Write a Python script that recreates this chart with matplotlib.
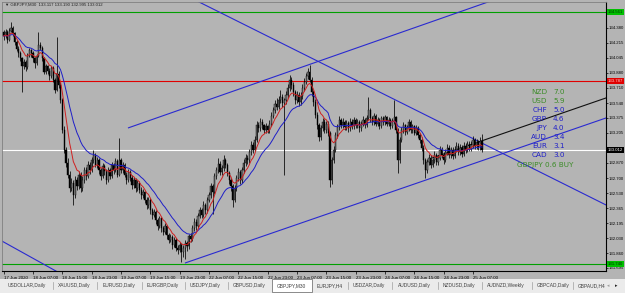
import matplotlib
matplotlib.use('Agg')
import matplotlib.pyplot as plt
import matplotlib.transforms as mtransforms
from matplotlib.patches import Rectangle
import numpy as np
import pandas as pd

# ---------------- data ----------------
first_open = 134.33
closes = [
134.29,134.34,134.25,134.35,134.38,134.32,134.22,134.15,134.10,134.04,
133.95,134.00,133.94,134.07,134.13,134.10,134.04,133.99,134.07,134.19,
134.16,134.04,133.89,133.95,133.90,133.84,133.93,133.80,133.69,133.87,
133.74,133.57,133.24,133.02,132.87,132.74,132.59,132.65,132.51,132.68,
132.61,132.74,132.59,132.68,132.79,132.72,132.85,132.79,132.90,132.96,
132.85,132.90,132.79,132.72,132.84,132.78,132.68,132.79,132.72,132.85,
132.79,132.89,132.74,132.90,132.79,132.85,132.74,132.68,132.77,132.70,
132.62,132.68,132.59,132.65,132.57,132.51,132.54,132.46,132.40,132.46,
132.34,132.29,132.32,132.23,132.16,132.25,132.14,132.10,132.16,132.06,
132.01,132.04,131.95,132.01,131.92,131.90,131.95,131.87,131.92,131.97,
131.94,132.05,132.02,132.14,132.21,132.16,132.28,132.34,132.29,132.40,
132.34,132.46,132.51,132.61,132.55,132.72,132.79,132.86,132.77,132.81,
132.90,132.85,132.76,132.68,132.61,132.46,132.59,132.70,132.77,132.68,
132.79,132.87,132.93,132.90,132.99,133.07,133.02,133.13,133.29,133.26,
133.33,133.29,133.24,133.28,133.24,133.31,133.40,133.46,133.53,133.50,
133.57,133.61,133.54,133.57,133.63,133.71,133.80,133.74,133.66,133.57,
133.63,133.55,133.62,133.71,133.78,133.84,133.89,133.80,133.66,133.55,
133.41,133.29,133.16,133.26,133.33,133.24,133.31,133.21,132.68,132.90,
133.02,133.18,133.27,133.35,133.29,133.33,133.27,133.32,133.26,133.33,
133.28,133.35,133.29,133.33,133.26,133.31,133.35,133.29,133.37,133.46,
133.37,133.33,133.40,133.31,133.35,133.28,133.37,133.33,133.38,133.31,
133.35,133.28,133.34,133.38,133.24,132.90,133.13,133.24,133.29,133.22,
133.26,133.33,133.24,133.28,133.21,133.26,133.18,133.13,133.04,132.90,
132.79,132.88,132.93,132.85,132.90,132.96,132.88,132.93,133.02,132.96,
132.90,132.99,133.04,132.96,133.02,132.95,133.02,133.06,132.99,133.04,
132.97,133.06,133.02,133.08,133.03,133.07,133.13,133.06,133.10,133.05,
133.117,133.012]
highs = [
134.36,134.37,134.36,134.38,134.45,134.40,134.34,134.25,134.18,134.12,
134.06,134.03,134.02,134.10,134.16,134.15,134.12,134.06,134.09,134.34,
134.22,134.18,134.06,133.98,133.97,133.93,133.96,133.95,133.82,134.28,
133.90,133.77,133.60,133.28,133.05,132.92,132.78,132.70,132.68,132.72,
132.71,132.78,132.77,132.72,132.83,132.82,132.89,132.88,132.94,133.02,
132.98,132.94,132.92,132.81,132.87,132.86,132.80,132.82,132.81,132.88,
132.87,132.93,132.91,133.15,132.93,132.88,132.87,132.77,132.80,132.79,
132.73,132.71,132.70,132.68,132.67,132.60,132.58,132.56,132.49,132.49,
132.48,132.37,132.36,132.34,132.25,132.28,132.27,132.17,132.20,132.18,
132.09,132.08,132.06,132.04,132.03,131.95,131.99,131.97,131.95,132.01,
132.00,132.08,132.09,132.18,132.25,132.24,132.31,132.38,132.37,132.44,
132.42,132.49,132.55,132.65,132.64,132.76,132.83,132.92,132.89,132.85,
132.96,132.93,132.87,132.78,132.70,132.63,132.62,132.74,132.81,132.79,
132.82,132.91,132.97,132.96,133.03,133.11,133.10,133.17,133.34,133.33,
133.37,133.36,133.31,133.32,133.30,133.35,133.44,133.50,133.57,133.60,
133.62,133.69,133.64,133.60,133.67,133.75,133.85,133.83,133.77,133.69,
133.67,133.66,133.66,133.75,133.82,133.88,133.93,133.97,133.83,133.69,
133.58,133.44,133.32,133.30,133.37,133.36,133.34,133.34,133.23,132.94,
133.06,133.22,133.31,133.39,133.37,133.37,133.35,133.35,133.34,133.37,
133.36,133.38,133.37,133.36,133.35,133.34,133.39,133.37,133.41,133.61,
133.48,133.40,133.43,133.42,133.38,133.37,133.40,133.39,133.41,133.40,
133.38,133.37,133.37,133.57,133.40,133.26,133.16,133.27,133.33,133.31,
133.29,133.36,133.35,133.31,133.30,133.29,133.28,133.21,133.16,133.07,
132.93,132.91,132.97,132.96,132.93,133.00,132.98,132.96,133.06,133.05,
132.99,133.03,133.08,133.07,133.05,133.05,133.06,133.10,133.09,133.08,
133.07,133.10,133.09,133.12,133.11,133.11,133.17,133.15,133.14,133.13,
133.16,133.19]
lows = [
134.25,134.27,134.21,134.23,134.33,134.29,134.19,134.12,134.06,134.01,
133.66,133.92,133.90,133.92,134.05,134.06,134.00,133.93,133.97,134.05,
134.13,134.01,133.86,133.87,133.86,133.80,133.82,133.77,133.65,133.67,
133.71,133.54,133.20,132.98,132.82,132.70,132.55,132.56,132.40,132.48,
132.57,132.58,132.55,132.56,132.65,132.68,132.70,132.75,132.77,132.87,
132.82,132.81,132.75,132.68,132.70,132.74,132.64,132.66,132.69,132.70,
132.75,132.77,132.71,132.72,132.76,132.76,132.71,132.64,132.66,132.67,
132.58,132.59,132.55,132.56,132.53,132.47,132.48,132.42,132.36,132.37,
132.30,132.24,132.26,132.19,132.12,132.14,132.10,132.06,132.08,132.02,
131.97,131.98,131.91,131.93,131.88,131.85,131.87,131.76,131.82,131.80,
131.88,131.91,131.98,132.00,132.11,132.12,132.14,132.25,132.25,132.26,
132.30,132.31,132.43,132.48,132.30,132.52,132.69,132.76,132.73,132.74,
132.78,132.81,132.72,132.64,132.56,132.38,132.43,132.56,132.67,132.64,
132.65,132.76,132.84,132.86,132.87,132.96,132.98,133.00,133.10,133.22,
133.23,133.25,133.20,133.21,133.20,133.21,133.28,133.37,133.43,133.46,
133.47,133.54,133.50,132.74,133.53,133.60,133.68,133.70,133.62,133.53,
133.54,133.51,133.52,133.59,133.68,133.75,133.81,133.77,133.62,133.51,
133.37,133.25,133.12,133.13,133.23,133.20,133.21,133.17,132.60,132.64,
132.87,132.99,133.15,133.24,133.26,133.26,133.24,133.24,133.22,133.23,
133.25,133.25,133.26,133.26,133.22,133.23,133.28,133.26,133.27,133.35,
133.33,133.29,133.30,133.28,133.28,133.25,133.26,133.30,133.30,133.28,
133.28,133.25,133.26,133.31,133.21,132.76,132.87,133.10,133.21,133.18,
133.19,133.23,133.21,133.21,133.18,133.18,133.15,133.09,133.00,132.86,
132.70,132.76,132.85,132.81,132.82,132.87,132.85,132.85,132.90,132.92,
132.86,132.88,132.96,132.93,132.93,132.91,132.93,132.99,132.96,132.96,
132.94,132.95,132.98,132.99,133.00,133.00,133.04,133.03,133.03,133.01,
133.02,132.995]

x_tick_labels = ["17 Jun 2020", "18 Jun 07:00", "18 Jun 15:00", "18 Jun 23:00",
                 "19 Jun 07:00", "19 Jun 15:00", "19 Jun 23:00", "22 Jun 07:00",
                 "22 Jun 15:00", "22 Jun 23:00", "23 Jun 07:00", "23 Jun 15:00",
                 "23 Jun 23:00", "24 Jun 07:00", "24 Jun 15:00", "24 Jun 23:00",
                 "25 Jun 07:00"]
bars_per_label = 16
y_tick_values = [134.380, 134.215, 134.045, 133.880, 133.710, 133.540, 133.375,
                 133.205, 133.035, 132.870, 132.700, 132.530, 132.365, 132.195,
                 132.030, 131.860, 131.695]

level_top = 134.561
level_red = 133.787
level_bid = 133.012
level_bottom = 131.740

# trend lines: (bar, price) endpoints
tl_desc = [(104.4, 134.693), (328.6, 132.40)]
tl_desc_low = [(-2.0, 132.008), (40.0, 131.53)]
tl_chan_up = [(67.8, 133.261), (262.6, 134.659)]
tl_chan_low = [(98.9, 131.75), (328.6, 133.373)]
tl_black = [(233.7, 132.925), (328.6, 133.597)]

strength_names = ["NZD", "USD", "CHF", "GBP", "JPY", "AUD", "EUR", "CAD"]
strength_values = [7.0, 5.9, 5.0, 4.6, 4.0, 3.4, 3.1, 3.0]
pair_signal = "GBPJPY 0.6 BUY"
title_text = "\u25bc GBPJPY,M30  133.117 133.190 132.995 133.012"
tabs = ["USDOLLAR,Daily", "XAUUSD,Daily", "EURUSD,Daily", "EURGBP,Daily",
        "USDJPY,Daily", "GBPUSD,Daily", "GBPJPY,M30", "EURJPY,H4",
        "USDZAR,Daily", "AUDUSD,Daily", "NZDUSD,Daily", "AUDNZD,Weekly",
        "GBPCAD,Daily", "GBPAUD,H4"]
active_tab = "GBPJPY,M30"

# ---------------- layout ----------------
W, H = 625, 293
BG = '#b4b4b4'
SMALL = ['Liberation Sans', 'DejaVu Sans']
fig = plt.figure(figsize=(W / 100, H / 100), dpi=100)
fig.patch.set_facecolor(BG)

def fx(px):
    return px / W

def fy(py):
    return 1 - py / H

PX_PER_BAR = 1.833
X0 = 3.67
def bar_at(px):
    return (px - X0) / PX_PER_BAR

def price_at(py):
    return 134.693 - 0.011188 * py

ax = fig.add_axes([fx(2), fy(271), (606 - 2) / W, (271 - 2) / H])
ax.set_facecolor(BG)
ax.set_xlim(bar_at(2), bar_at(606))
ax.set_ylim(price_at(271), price_at(2))

c = np.array(closes)
o = np.array([first_open] + closes[:-1])
hi = np.array(highs)
lo = np.array(lows)
n = len(c)
xs = np.arange(n)

red_ma = pd.Series(c).ewm(span=8, adjust=False).mean().values
blue_ma = pd.Series(c).ewm(span=20, adjust=False).mean().values

ax.axhline(level_top, color='#00a000', lw=0.8, zorder=1)
ax.axhline(level_red, color='#e00000', lw=0.8, zorder=1)
ax.axhline(level_bid, color='white', lw=0.8, zorder=1)
ax.axhline(level_bottom, color='#00a000', lw=0.8, zorder=1)

def draw_line(pts, color, extend_right=True, extend_left=False):
    (x1, y1), (x2, y2) = pts
    s = (y2 - y1) / (x2 - x1)
    xa = x1 if not extend_left else bar_at(0)
    xb = bar_at(640) if extend_right else x2
    ax.plot([xa, xb], [y1 + s * (xa - x1), y1 + s * (xb - x1)], color=color,
            lw=0.8, zorder=2, solid_capstyle='butt')

draw_line(tl_desc, '#2a2ad0', extend_left=True)
draw_line(tl_desc_low, '#2a2ad0', extend_left=True)
draw_line(tl_chan_up, '#2a2ad0')
draw_line(tl_chan_low, '#2a2ad0')
draw_line(tl_black, '#101010')

ax.vlines(xs, lo, hi, color='black', lw=0.55, zorder=3)
up = c >= o
body = np.where(np.abs(c - o) < 0.004, 0.004, np.abs(c - o))
bottoms = np.minimum(c, o)
ax.bar(xs[up], body[up], bottom=bottoms[up], width=0.65, color='#7a7a7a',
       edgecolor='black', linewidth=0.3, zorder=4)
ax.bar(xs[~up], body[~up], bottom=bottoms[~up], width=0.65, color='black',
       edgecolor='black', linewidth=0.3, zorder=4)

ax.plot(xs, blue_ma, color='#1e1ec8', lw=0.7, zorder=5)
ax.plot(xs, red_ma, color='#d02020', lw=0.7, zorder=5)

for side in ['top', 'left']:
    ax.spines[side].set_color('#808080')
    ax.spines[side].set_linewidth(0.6)
for side in ['right', 'bottom']:
    ax.spines[side].set_color('black')
    ax.spines[side].set_linewidth(0.8)

ax.yaxis.tick_right()
ax.set_yticks(y_tick_values)
ax.set_yticklabels([f"{v:.3f}" for v in y_tick_values], family=SMALL)
ax.tick_params(axis='y', labelsize=3.05, pad=0.6, length=1.6, width=0.5, colors='black')

ax.set_xticks([i * bars_per_label for i in range(len(x_tick_labels))])
ax.set_xticklabels(x_tick_labels, family=SMALL)
ax.tick_params(axis='x', labelsize=3.2, pad=1.5, length=2, width=0.5, colors='black')
for lab in ax.get_xticklabels():
    lab.set_ha('left')

blend = mtransforms.blended_transform_factory(ax.transAxes, ax.transData)
for lvl, fc, tc in [(level_top, '#00c000', '#003000'), (level_red, '#e00000', '#ffd0d0'),
                    (level_bid, '#000000', 'white'), (level_bottom, '#00c000', '#003000')]:
    ax.text(1.003, lvl, f"{lvl:.3f}", transform=blend, fontsize=3.05, va='center',
            ha='left', color=tc, zorder=10, clip_on=False, family=SMALL,
            bbox=dict(boxstyle='square,pad=0.25', fc=fc, ec='none'))

fig.text(fx(5), fy(5), title_text, fontsize=3.1, color='#202020', va='center',
         ha='left', family=SMALL)

green_txt = '#3c8c28'
blue_txt = '#2020c8'
for k, (nm, val) in enumerate(zip(strength_names, strength_values)):
    col = green_txt if val > 5.5 else blue_txt
    yy = 92 + k * 9
    fig.text(fx(547), fy(yy), nm, fontsize=5.2, color=col, ha='right', va='center')
    fig.text(fx(553), fy(yy), f"{val:.1f}", fontsize=5.2, color=col, ha='left', va='center')
fig.text(fx(517), fy(165), pair_signal, fontsize=5.2, color=green_txt, ha='left', va='center')

# tab bar
fig.add_artist(Rectangle((0, 0), 1, fy(279), transform=fig.transFigure,
                         fc='#ebebeb', ec='none', zorder=0))
fig.add_artist(Rectangle((fx(272), fy(292)), (312 - 272) / W, (292 - 279) / H,
                         transform=fig.transFigure, fc='white', ec='#606060', lw=0.5))
tab_x = [8, 58, 103, 147, 190, 233, 277, 317, 353, 398, 443, 487, 537, 578]
sep_x = [53, 97, 142, 185, 228, 348, 392, 438, 482, 532, 573]
for t, px in zip(tabs, tab_x):
    fig.text(fx(px), fy(285.5), t, fontsize=3.5, color='#404040', ha='left',
             va='center', family=SMALL)
for sx in sep_x:
    fig.add_artist(plt.Line2D([fx(sx), fx(sx)], [fy(289), fy(282)], transform=fig.transFigure,
                              color='#a0a0a0', lw=0.5))
fig.text(fx(607), fy(285.5), '\u25c2', fontsize=3.5, color='#a0a0a0', ha='left', va='center')
fig.text(fx(615), fy(285.5), '\u25b8', fontsize=3.5, color='#202020', ha='left', va='center')

fig.savefig('out.png', dpi=100, facecolor=fig.get_facecolor())
